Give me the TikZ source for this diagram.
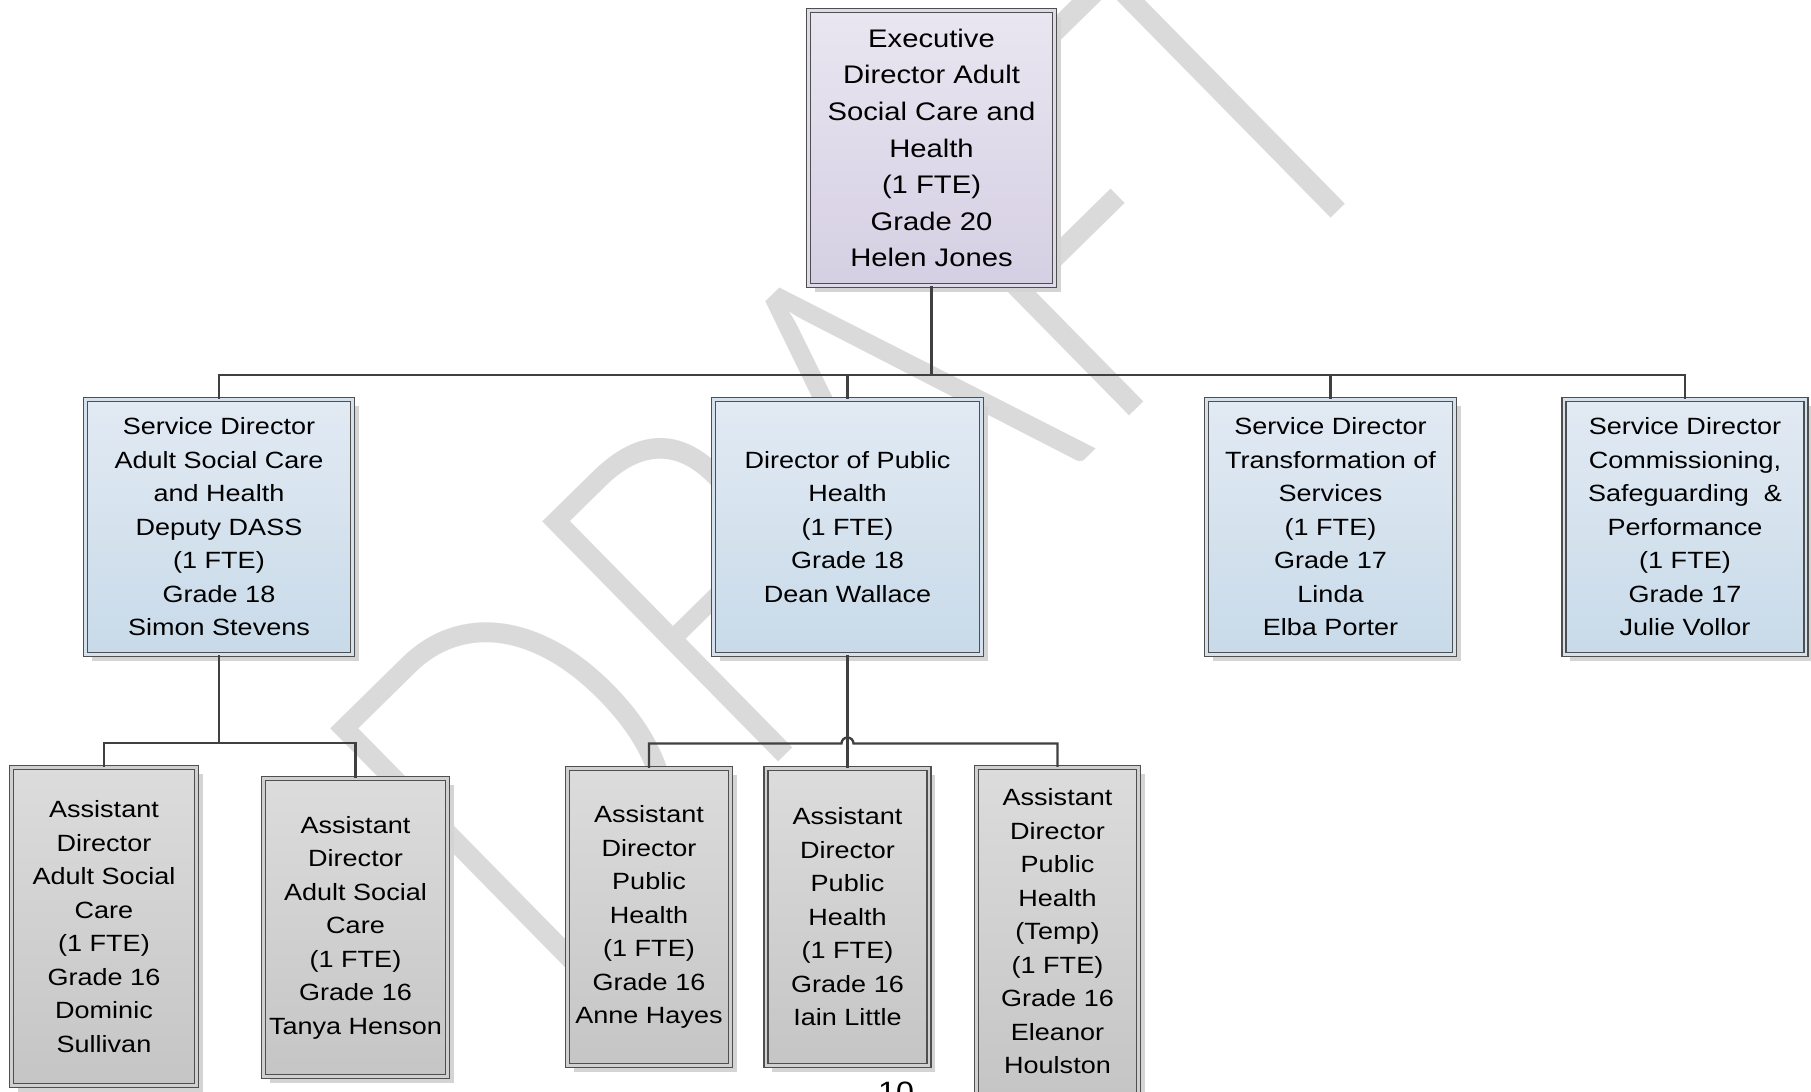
\documentclass[tikz,border=0pt]{standalone}
\usepackage{fontspec}
\setmainfont[FakeStretch=1.15]{Liberation Sans}
\IfFontExistsTF{Lato Light}
    {\newfontfamily\wmfont{Lato Light}\newcommand\wmpt{195}\newcommand\wmys{1.22}}
    {\IfFontExistsTF{Open Sans Light}
        {\newfontfamily\wmfont{Open Sans Light}\newcommand\wmpt{195}\newcommand\wmys{1.22}}
        {\newfontfamily\wmfont{Carlito}\newcommand\wmpt{215}\newcommand\wmys{1.2}}}
\usepackage{tikz}
\usetikzlibrary{positioning,shadows}

\definecolor{linegray}{HTML}{404040}
\definecolor{boxline}{HTML}{4F4F4F}
\definecolor{shadowgray}{HTML}{D4D4D4}
\definecolor{exectop}{HTML}{E9E6F1}
\definecolor{execbot}{HTML}{D5CFE3}
\definecolor{execmid}{HTML}{DFDAEA}
\definecolor{dirtop}{HTML}{E2EAF3}
\definecolor{dirbot}{HTML}{C8DAE9}
\definecolor{dirmid}{HTML}{D5E2EE}
\definecolor{assttop}{HTML}{DCDCDC}
\definecolor{asstbot}{HTML}{C5C5C5}
\definecolor{asstmid}{HTML}{D0D0D0}
\definecolor{wmgray}{HTML}{DADADA}

\begin{document}
\begin{tikzpicture}[x=0.5pt, y=0.5pt,
    orgbox/.style={rectangle, draw=boxline, line width=0.6pt, double distance=1.4pt, inner sep=0pt, align=center,
        font=\fontsize{11.75}{16.75}\selectfont,
        drop shadow={shadow xshift=3pt, shadow yshift=-3pt, fill=shadowgray, opacity=1}},
    execnode/.style={orgbox, double=execmid, top color=exectop, bottom color=execbot,
        minimum width=123pt, minimum height=137.5pt, font=\fontsize{12.7}{18.3}\selectfont},
    dirnode/.style={orgbox, double=dirmid, top color=dirtop, bottom color=dirbot, minimum height=127.5pt},
    asstnode/.style={orgbox, double=asstmid, top color=assttop, bottom color=asstbot},
    wmtext/.style={text=wmgray, font=\wmfont\fontsize{\wmpt}{\wmpt}\selectfont, inner sep=0pt},
    link/.style={draw=linegray, line width=1.15pt}
    ]
        \useasboundingbox (0,0) rectangle (1811,-1092);

        %Watermark
        \node[wmtext, rotate=44.5, yscale=\wmys]
            (wm)    at (860,-445)   {DRAFT};

        %Nodes
        \node[execnode]
            (exd)   at (931.5,-148)   {Executive\\Director Adult\\Social Care and\\Health\\(1 FTE)\\Grade 20\\Helen Jones};

        \node[dirnode, minimum width=133.5pt]
            (sdasc) at (219,-527)     {Service Director\\Adult Social Care\\and Health\\Deputy DASS\\(1 FTE)\\Grade 18\\Simon Stevens};
        \node[dirnode, minimum width=134pt]
            (dph)   at (847.5,-527)   {Director of Public\\Health\\(1 FTE)\\Grade 18\\Dean Wallace};
        \node[dirnode, minimum width=124pt]
            (sdtos) at (1330.5,-527)  {Service Director\\Transformation of\\Services\\(1 FTE)\\Grade 17\\Linda\\Elba Porter};
        \node[dirnode, minimum width=121pt]
            (sdcsp) at (1685,-527)    {Service Director\\Commissioning,\\Safeguarding\ \ \&\\Performance\\(1 FTE)\\Grade 17\\Julie Vollor};

        \node[asstnode, minimum width=92.5pt, minimum height=159pt]
            (adasc1) at (104,-926.5)  {Assistant\\Director\\Adult Social\\Care\\(1 FTE)\\Grade 16\\Dominic\\Sullivan};
        \node[asstnode, minimum width=92pt, minimum height=149pt]
            (adasc2) at (355.5,-927.5) {Assistant\\Director\\Adult Social\\Care\\(1 FTE)\\Grade 16\\Tanya Henson};
        \node[asstnode, minimum width=81.5pt, minimum height=148.5pt]
            (adph1) at (649,-917)     {Assistant\\Director\\Public\\Health\\(1 FTE)\\Grade 16\\Anne Hayes};
        \node[asstnode, minimum width=81.5pt, minimum height=148.5pt]
            (adph2) at (847.5,-917)   {Assistant\\Director\\Public\\Health\\(1 FTE)\\Grade 16\\Iain Little};
        \node[asstnode, minimum width=81pt, minimum height=164pt]
            (adph3) at (1057.5,-931.5) {Assistant\\Director\\Public\\Health\\(Temp)\\(1 FTE)\\Grade 16\\Eleanor\\Houlston};

        \node[inner sep=0pt, anchor=north, font=\fontsize{14}{14}\selectfont]
            (pgno)  at (896,-1082)    {10};

        %Lines
        \coordinate (topbus) at (931.5,-375);
        \draw[link] (exd.south) -- (topbus);
        \draw[link] (sdasc.north) |- (topbus) -| (sdcsp.north);
        \draw[link] (dph.north) -- (dph.north |- topbus);
        \draw[link] (sdtos.north) -- (sdtos.north |- topbus);

        \coordinate (ascbus) at (219,-743);
        \draw[link] (sdasc.south) -- (ascbus);
        \draw[link] (adasc1.north) |- (ascbus) -| (adasc2.north);

        \coordinate (phhop) at (841.5,-743.5);
        \draw[link] (dph.south) -- (adph2.north);
        \draw[link] (adph1.north) |- (phhop) arc[start angle=180, end angle=0, radius=6] -| (adph3.north);
    \end{tikzpicture}
\end{document}
